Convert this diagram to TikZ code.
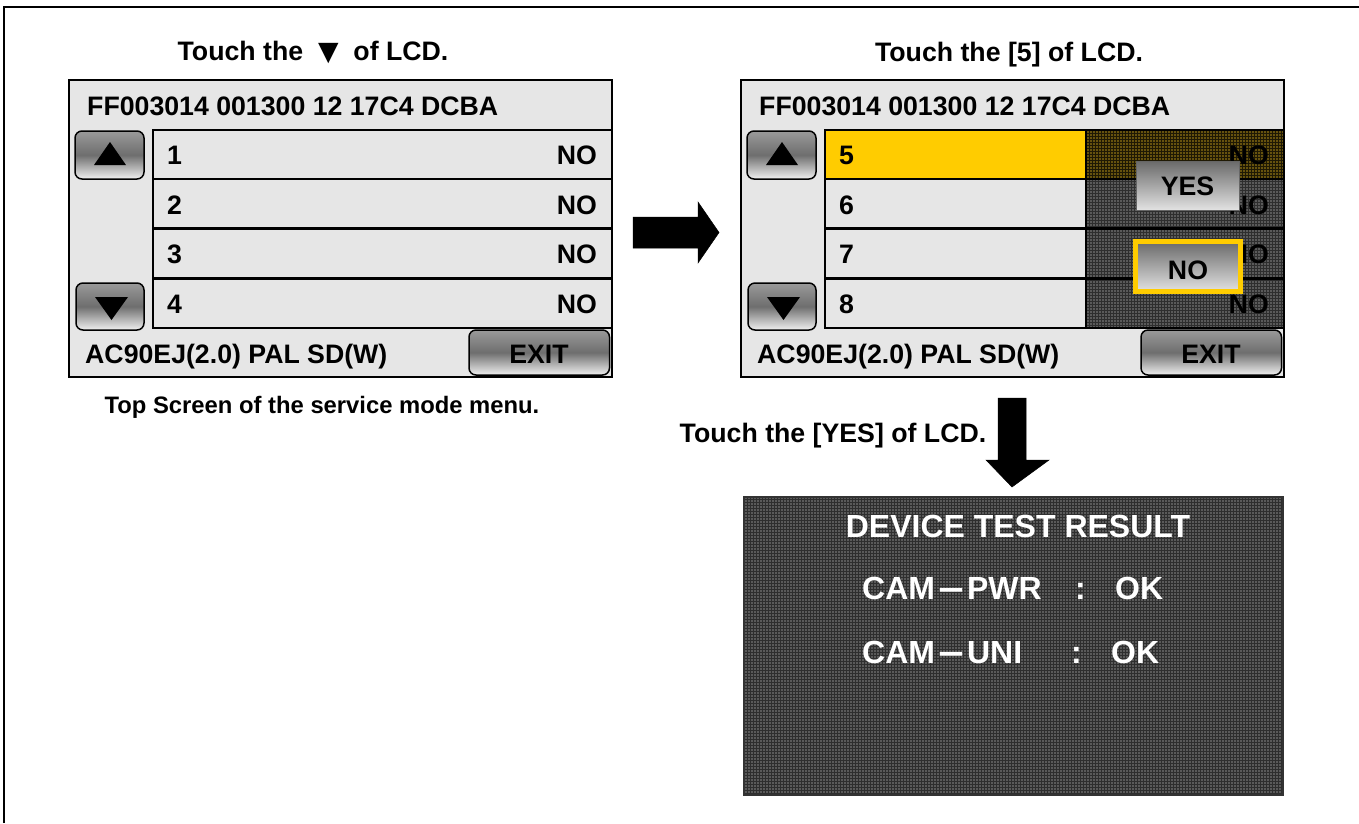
\documentclass[tikz,border=0pt]{standalone}
\usepackage{fontspec}
\setmainfont{Liberation Sans}
\newfontfamily\symfont{DejaVu Sans}
\newfontfamily\cjk{Noto Sans CJK SC}
\usetikzlibrary{patterns}
\definecolor{scr}{HTML}{E6E6E6}
\definecolor{ylw}{HTML}{FFCC00}
\definecolor{dk}{HTML}{5A5A5A}
\definecolor{dkline}{HTML}{2E2E2E}
\definecolor{dkbrown}{HTML}{66520E}
\definecolor{btntop}{HTML}{9A9A9A}
\definecolor{btnmid}{HTML}{6E6E6E}
\definecolor{btnbot}{HTML}{F0F0F0}
\definecolor{popt}{HTML}{6A6A6A}
\definecolor{popb}{HTML}{E2E2E2}
\begin{document}
\begin{tikzpicture}[x=1pt,y=-1pt,
  sctxt/.style={font=\fontsize{26.7}{28}\selectfont\bfseries, inner sep=0pt, anchor=base west},
  scno/.style={font=\fontsize{26.7}{28}\selectfont\bfseries, inner sep=0pt, anchor=base east},
  captxt/.style={font=\fontsize{26.7}{28}\selectfont\bfseries, inner sep=0pt, anchor=base},
  restxt/.style={font=\fontsize{32}{34}\selectfont\bfseries, text=white, inner sep=0pt, anchor=base west},
  screenbox/.style={fill=scr, draw=black, line width=2pt},
  rowbox/.style={draw=black, line width=2pt},
  btn/.style={draw=black, line width=1.5pt, rounded corners=7pt, top color=btntop, bottom color=btnbot, middle color=btnmid},
  popbtn/.style={top color=popt, bottom color=popb},
  blockarrow/.style={fill=black, draw=black, line width=0.5pt},
  texture/.style={pattern=grid, pattern color=dkline}
]
\useasboundingbox (0,0) rectangle (1359,823);
% outer frame
\draw[line width=2pt] (4,823) -- (4,7) -- (1359,7);

% ---------------- captions
\node[captxt] (capA) at (313,60) {Touch the~~{\symfont ▼}~~of LCD.};
\node[captxt] (capB) at (1009,61) {Touch the [5] of LCD.};
\node[captxt, font=\fontsize{23.8}{26}\selectfont\bfseries] (capC) at (322,413) {Top Screen of the service mode menu.};
\node[captxt] (capD) at (833,442) {Touch the [YES] of LCD.};

% ---------------- left screen
\draw[screenbox] (69,80) rectangle (612,377);
\foreach \t in {129.5,178.5,228.5,278.5}
  \draw[rowbox, fill=scr] (152.5,\t) rectangle (612,\t+49.5);
\node[sctxt] (h1) at (87,115) {FF003014 001300 12 17C4 DCBA};
\node[sctxt] (r1) at (167,164.5) {1};
\node[sctxt] (r2) at (167,214) {2};
\node[sctxt] (r3) at (167,263.5) {3};
\node[sctxt] (r4) at (167,313) {4};
\node[scno] (n1) at (597,164.5) {NO};
\node[scno] (n2) at (597,214) {NO};
\node[scno] (n3) at (597,263.5) {NO};
\node[scno] (n4) at (597,313) {NO};
\draw[btn] (75,131) rectangle (144,179);
\fill (94,165) -- (126,165) -- (110,142) -- cycle;
\draw[btn] (76,283) rectangle (144,330);
\fill (95,297) -- (128,297) -- (111.5,320) -- cycle;
\draw[btn] (469,330) rectangle (609.5,375);
\node[sctxt, anchor=base] (ex1) at (539,363) {EXIT};
\node[sctxt] (f1) at (85,363) {AC90EJ(2.0) PAL SD(W)};

% ---------------- arrow right
\draw[blockarrow] (633,217) -- (698,217) -- (698,202) -- (719,232.5) -- (698,263) -- (698,248) -- (633,248) -- cycle;

% ---------------- right screen
\draw[screenbox] (741,80) rectangle (1284,377);
\begin{scope}
\clip (741,80) rectangle (1284,377);
\fill[ylw] (825,129.5) rectangle (1086,179);
\fill[dkbrown] (1086,129.5) rectangle (1284,179);
\fill[texture, pattern color=black!70!dkbrown] (1086,129.5) rectangle (1284,179);
\fill[dk] (1086,179) rectangle (1284,328);
\fill[texture] (1086,179) rectangle (1284,328);
\foreach \t in {129.5,178.5,228.5,278.5}
  \draw[rowbox] (825,\t) rectangle (1284,\t+49.5);
\draw[black, line width=2pt] (1086,129.5) -- (1086,328);
\node[scno] (n5) at (1269,164.5) {NO};
\node[scno] (n6) at (1269,214) {NO};
\node[scno] (n7) at (1269,263.5) {NO};
\node[scno] (n8) at (1269,313) {NO};
\end{scope}
\draw[black, line width=2pt] (741,80) rectangle (1284,377);
\node[sctxt] (h2) at (759,115) {FF003014 001300 12 17C4 DCBA};
\node[sctxt] (r5) at (839,164.5) {5};
\node[sctxt] (r6) at (839,214) {6};
\node[sctxt] (r7) at (839,263.5) {7};
\node[sctxt] (r8) at (839,313) {8};
\draw[btn] (747,131) rectangle (816,179);
\fill (766,165) -- (798,165) -- (782,142) -- cycle;
\draw[btn] (748,283) rectangle (816,330);
\fill (767,297) -- (800,297) -- (783.5,320) -- cycle;
\draw[btn] (1141,330) rectangle (1281.5,375);
\node[sctxt, anchor=base] (ex2) at (1211,363) {EXIT};
\node[sctxt] (f2) at (757,363) {AC90EJ(2.0) PAL SD(W)};
% popup buttons
\draw[popbtn, draw=gray!80!black, line width=1pt] (1136,161) rectangle (1239,210);
\node[sctxt, anchor=base] (yes) at (1187.5,195) {YES};
\draw[popbtn, draw=ylw, line width=5pt] (1135.5,241.5) rectangle (1240.5,291.5);
\node[sctxt, anchor=base] (no) at (1188,279) {NO};

% ---------------- arrow down
\draw[blockarrow] (998,398) -- (1026,398) -- (1026,460) -- (1049,460) -- (1012,487) -- (986,460) -- (998,460) -- cycle;

% ---------------- result screen
\fill[dk] (744,497) rectangle (1283,795);
\fill[texture] (744,497) rectangle (1283,795);
\draw[draw=black!80, line width=1.5pt] (744,497) rectangle (1283,795);
\node[restxt, anchor=base] (rt) at (1018,537) {DEVICE TEST RESULT};
\node[restxt] (c1) at (862,599) {CAM\raisebox{-3pt}{\cjk －}PWR};
\node[restxt] (d1) at (1075,599) {:};
\node[restxt] (o1) at (1115,599) {OK};
\node[restxt] (c2) at (862,663) {CAM\raisebox{-3pt}{\cjk －}UNI};
\node[restxt] (d2) at (1071,663) {:};
\node[restxt] (o2) at (1111,663) {OK};
\end{tikzpicture}
\end{document}
